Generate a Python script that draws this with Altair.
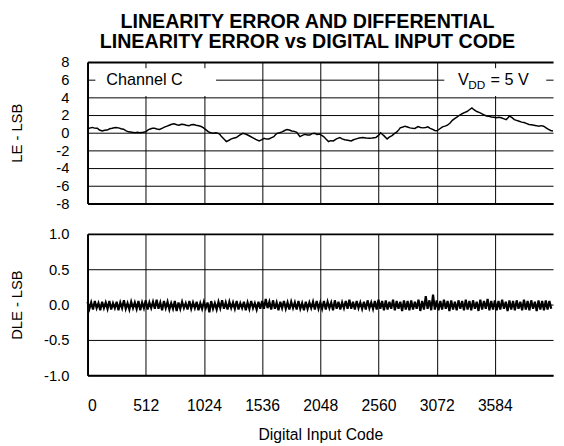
import altair as alt
import pandas as pd

title_lines = ["LINEARITY ERROR AND DIFFERENTIAL", "LINEARITY ERROR vs DIGITAL INPUT CODE"]
x_ticks = [0, 512, 1024, 1536, 2048, 2560, 3072, 3584]
le_ticks = [-8, -6, -4, -2, 0, 2, 4, 6, 8]
dle_ticks = [-1.0, -0.5, 0.0, 0.5, 1.0]

le_code = [0, 9, 25, 43, 60, 86, 105, 129, 150, 173, 195, 216, 245, 273, 295, 316, 340, 360, 390, 417,
           440, 460, 490, 512, 530, 546, 570, 590, 610, 633, 655, 676, 700, 719, 740, 762, 785, 805, 825, 848,
           870, 892, 912, 935, 955, 978, 1000, 1021, 1045, 1064, 1085, 1107, 1130, 1150, 1165, 1179, 1200, 1222, 1245, 1265,
           1290, 1309, 1335, 1366, 1390, 1409, 1430, 1452, 1480, 1510, 1530, 1553, 1575, 1596, 1620, 1639, 1655, 1668, 1690, 1711,
           1735, 1754, 1775, 1797, 1820, 1841, 1855, 1869, 1890, 1912, 1935, 1956, 1975, 1999, 2020, 2042, 2060, 2077, 2100, 2120,
           2140, 2163, 2190, 2220, 2240, 2263, 2290, 2320, 2340, 2364, 2390, 2421, 2450, 2478, 2505, 2536, 2560, 2579, 2595, 2607,
           2620, 2636, 2655, 2679, 2700, 2722, 2740, 2751, 2775, 2794, 2815, 2837, 2860, 2880, 2908, 2930, 2951, 2975, 2994, 3015,
           3037, 3055, 3075, 3100, 3123, 3145, 3167, 3190, 3210, 3230, 3253, 3275, 3296, 3320, 3339, 3360, 3382, 3400, 3425, 3445,
           3468, 3490, 3511, 3530, 3554, 3575, 3597, 3620, 3640, 3660, 3683, 3700, 3712, 3735, 3755, 3775, 3798, 3820, 3841, 3860,
           3884, 3905, 3927, 3950, 3970, 3990, 4013, 4035, 4056, 4075, 4095]
le_value = [0.3, 0.48, 0.55, 0.6, 0.52, 0.5, 0.3, 0.2, 0.28, 0.3, 0.45, 0.5, 0.6, 0.55, 0.45, 0.4, 0.2, 0.1, 0.05, 0.0,
            0.05, 0.0, 0.05, 0.1, 0.3, 0.4, 0.5, 0.5, 0.42, 0.37, 0.5, 0.63, 0.75, 0.85, 0.95, 1.0, 0.9, 0.85, 0.95, 0.93,
            0.85, 0.78, 0.9, 0.93, 0.85, 0.78, 0.7, 0.55, 0.3, 0.1, 0.0, -0.07, 0.0, -0.07, -0.2, -0.44, -0.7, -1.0, -0.85, -0.7,
            -0.6, -0.55, -0.3, -0.07, -0.15, -0.26, -0.4, -0.55, -0.75, -0.93, -0.8, -0.63, -0.72, -0.7, -0.55, -0.44, -0.2, -0.07, 0.0, 0.1,
            0.25, 0.37, 0.3, 0.2, 0.15, 0.04, -0.2, -0.44, -0.3, -0.19, -0.25, -0.26, -0.1, -0.07, -0.2, -0.15, -0.3, -0.44, -0.75, -1.0,
            -0.9, -0.93, -0.7, -0.55, -0.7, -0.8, -0.85, -0.93, -0.8, -0.7, -0.6, -0.55, -0.6, -0.63, -0.6, -0.55, -0.3, 0.0, -0.2, -0.33,
            -0.5, -0.7, -0.5, -0.33, -0.1, 0.1, 0.35, 0.55, 0.65, 0.74, 0.65, 0.55, 0.5, 0.48, 0.7, 0.6, 0.55, 0.6, 0.67, 0.5,
            0.37, 0.25, 0.22, 0.45, 0.67, 0.75, 0.85, 1.1, 1.4, 1.6, 1.78, 2.0, 2.15, 2.3, 2.4, 2.6, 2.8, 2.6, 2.4, 2.3,
            2.15, 2.0, 1.9, 1.85, 1.78, 1.75, 1.7, 1.75, 1.7, 1.6, 1.48, 1.7, 1.9, 1.7, 1.48, 1.4, 1.3, 1.2, 1.15, 1.05,
            0.93, 0.9, 0.85, 0.8, 0.74, 0.8, 0.74, 0.55, 0.37, 0.25, 0.2]

dle_code = list(range(0, 4096, 16))
dle_value = [
    0.04, -0.06, 0.03, -0.07, 0.05, -0.05, 0.02, -0.08, 0.04, -0.05, 0.03, -0.06, 0.05, -0.07, 0.02, -0.05,
    0.04, -0.08, 0.03, -0.05, 0.06, -0.06, 0.02, -0.07, 0.04, -0.05, 0.03, -0.06, 0.05, -0.08, 0.03, -0.05,
    0.06, -0.07, 0.03, -0.05, 0.04, -0.06, 0.07, -0.06, 0.03, -0.08, 0.05, -0.05, 0.04, -0.07, 0.02, -0.06,
    0.05, -0.09, 0.03, -0.06, 0.04, -0.05, 0.02, -0.07, 0.05, -0.06, 0.03, -0.05, 0.04, -0.08, 0.02, -0.06,
    0.04, -0.05, 0.03, -0.11, 0.05, -0.06, 0.02, -0.07, 0.04, -0.05, 0.06, -0.06, 0.03, -0.07, 0.04, -0.05,
    0.03, -0.06, 0.05, -0.07, 0.02, -0.05, 0.04, -0.08, 0.03, -0.06, 0.05, -0.05, 0.02, -0.07, 0.04, -0.06,
    0.05, -0.06, 0.08, -0.05, 0.04, -0.07, 0.06, -0.06, 0.03, -0.08, 0.04, -0.05, 0.05, -0.06, 0.03, -0.07,
    0.04, -0.05, 0.03, -0.07, 0.05, -0.06, 0.02, -0.08, 0.04, -0.06, 0.03, -0.05, 0.04, -0.07, 0.05, -0.06,
    0.03, -0.06, 0.05, -0.07, 0.04, -0.05, 0.03, -0.08, 0.06, -0.06, 0.04, -0.07, 0.03, -0.05, 0.05, -0.06,
    0.07, -0.06, 0.04, -0.07, 0.05, -0.05, 0.03, -0.06, 0.04, -0.07, 0.06, -0.05, 0.03, -0.06, 0.05, -0.07,
    0.07, -0.06, 0.05, -0.08, 0.06, -0.07, 0.04, -0.06, 0.07, -0.08, 0.05, -0.06, 0.04, -0.09, 0.06, -0.07,
    0.05, -0.08, 0.06, -0.07, 0.04, -0.06, 0.07, -0.09, 0.05, -0.07, 0.12, -0.06, 0.06, -0.08, 0.14, -0.07,
    0.06, -0.08, 0.05, -0.07, 0.07, -0.06, 0.05, -0.09, 0.06, -0.07, 0.04, -0.08, 0.06, -0.06, 0.05, -0.08,
    0.07, -0.07, 0.05, -0.08, 0.06, -0.06, 0.04, -0.09, 0.07, -0.07, 0.05, -0.06, 0.08, -0.08, 0.05, -0.07,
    0.06, -0.08, 0.05, -0.07, 0.07, -0.06, 0.04, -0.09, 0.06, -0.07, 0.05, -0.08, 0.06, -0.06, 0.04, -0.08,
    0.07, -0.07, 0.05, -0.08, 0.06, -0.06, 0.04, -0.09, 0.06, -0.07, 0.05, -0.08, 0.06, -0.07, 0.05, -0.06,
]

box_x1 = [69, 3139]
box_x2 = [1131, 4036]
box_y1 = [4.15, 4.15]
box_y2 = [7.3, 7.3]

main_text = ["Channel C", "V", "= 5 V"]
main_x = [164, 3260, 3545]
main_y = [6, 6, 6]
sub_text = ["DD"]
sub_x = [3350]
sub_y = [6]

FONT = "Liberation Sans"
W, H = 474, 144
MINUS = "\u2212"

le_df = pd.DataFrame({"code": le_code, "value": le_value})
dle_df = pd.DataFrame({"code": dle_code, "value": dle_value})
box_df = pd.DataFrame({"x1": box_x1, "x2": box_x2, "y1": box_y1, "y2": box_y2})
main_df = pd.DataFrame({"x": main_x, "y": main_y, "t": main_text})
sub_df = pd.DataFrame({"x": sub_x, "y": sub_y, "t": sub_text})

xscale = alt.Scale(domain=[0, 4096], nice=False, zero=False)
top_xaxis = alt.Axis(values=x_ticks, labels=False, ticks=False, tickSize=0, domain=True,
                     domainColor="black", domainWidth=2, grid=True, gridColor="black",
                     gridWidth=1, gridOpacity=1, title=None, minExtent=0, maxExtent=0,
                     labelPadding=0)
bot_xaxis = alt.Axis(values=x_ticks, labels=True, ticks=False, tickSize=0, domain=True,
                     domainColor="black", domainWidth=2, grid=True, gridColor="black",
                     gridWidth=1, gridOpacity=1, labelFontSize=16, labelColor="black",
                     labelPadding=23, labelExpr="toString(datum.value)",
                     title="Digital Input Code", titleFontSize=16, titleFontWeight="normal",
                     titleColor="black", titlePadding=13)
le_yaxis = alt.Axis(values=le_ticks, ticks=False, tickSize=0, domain=True, domainColor="black",
                    domainWidth=2, grid=True, gridColor="black", gridOpacity=1,
                    gridWidth={"condition": {"test": "datum.value == 8", "value": 2}, "value": 1},
                    labelFontSize=15, labelColor="black", labelPadding=19,
                    labelExpr="toString(datum.value)",
                    title="LE - LSB", titleFontSize=15, titleFontWeight="normal", titleColor="black",
                    titleX=-72, titleY=H / 2, titleAlign="center", titleBaseline="middle", titleAngle=270)
dle_yaxis = alt.Axis(values=dle_ticks, ticks=False, tickSize=0, domain=True, domainColor="black",
                     domainWidth=2, grid=True, gridColor="black", gridOpacity=1,
                     gridWidth={"condition": {"test": "datum.value == 1", "value": 2}, "value": 1},
                     labelFontSize=15, labelColor="black", labelPadding=19,
                     labelExpr="replace(format(datum.value, '.1f'), '" + MINUS + "', '-')",
                     title="DLE - LSB", titleFontSize=15, titleFontWeight="normal", titleColor="black",
                     titleX=-72, titleY=H / 2, titleAlign="center", titleBaseline="middle", titleAngle=270)

le_scale = alt.Scale(domain=[-8, 8], nice=False, zero=False)
dle_scale = alt.Scale(domain=[-1, 1], nice=False, zero=False)

boxes = alt.Chart(box_df).mark_rect(color="white", opacity=1).encode(
    x=alt.X("x1:Q", scale=xscale, axis=top_xaxis),
    x2="x2:Q",
    y=alt.Y("y1:Q", scale=le_scale, axis=le_yaxis),
    y2="y2:Q",
)
texts = alt.Chart(main_df).mark_text(align="left", baseline="middle", fontSize=16.5, font=FONT,
                                     color="black").encode(
    x=alt.X("x:Q", scale=xscale, axis=top_xaxis),
    y=alt.Y("y:Q", scale=le_scale, axis=le_yaxis),
    text="t:N",
)
subs = alt.Chart(sub_df).mark_text(align="left", baseline="middle", fontSize=12, font=FONT,
                                   color="black", dy=5).encode(
    x=alt.X("x:Q", scale=xscale, axis=top_xaxis),
    y=alt.Y("y:Q", scale=le_scale, axis=le_yaxis),
    text="t:N",
)
le_line = alt.Chart(le_df).mark_line(color="black", strokeWidth=1.5).encode(
    x=alt.X("code:Q", scale=xscale, axis=top_xaxis),
    y=alt.Y("value:Q", scale=le_scale, axis=le_yaxis),
)
top = alt.layer(boxes, texts, subs, le_line).properties(width=W, height=H)

dle_line = alt.Chart(dle_df).mark_line(color="black", strokeWidth=2.2).encode(
    x=alt.X("code:Q", scale=xscale, axis=bot_xaxis),
    y=alt.Y("value:Q", scale=dle_scale, axis=dle_yaxis),
)
bottom = dle_line.properties(width=W, height=H)

chart = alt.vconcat(top, bottom, spacing=16).properties(
    title=alt.TitleParams(text=title_lines, fontSize=20, fontWeight="bold", font=FONT,
                          color="black", anchor="middle", lineHeight=21, offset=3, dx=25),
    padding={"left": 2, "top": 0, "right": 0, "bottom": 0},
).configure(font=FONT).configure_view(stroke=None)

chart.save("out.html", embed_options={"renderer": "svg", "actions": False})
